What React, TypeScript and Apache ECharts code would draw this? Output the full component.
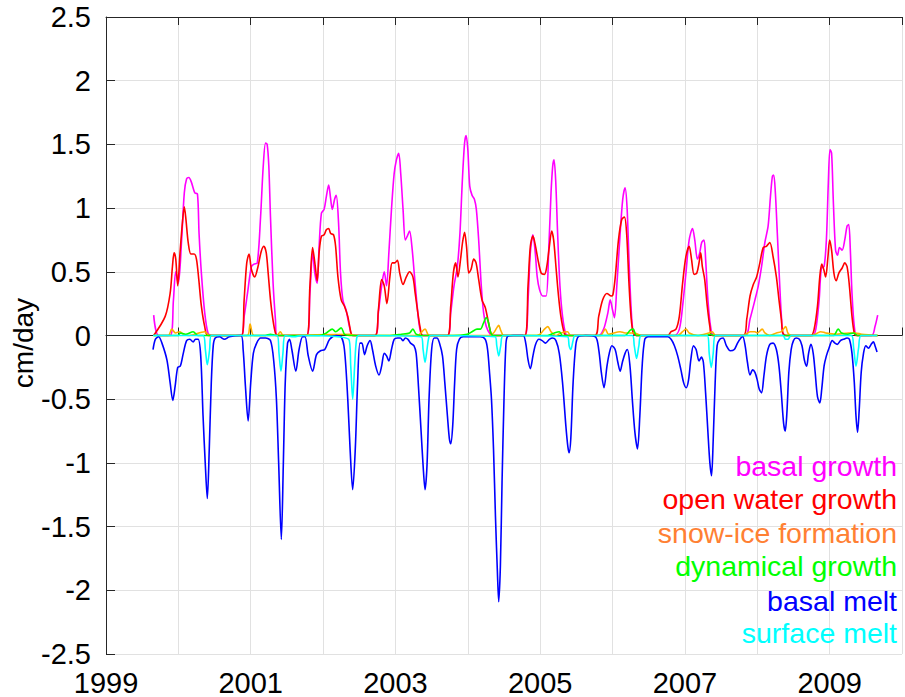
import React, { useEffect, useRef } from "react";
import * as echarts from "echarts";

// [decimal year, cm/day]
const basalGrowth: [number, number][] = [
  [1999.659, 0.16], [1999.727, 0.0], [1999.886, 0.0], [1999.932, 0.28], [1999.964, 0.5], [2000.0, 0.41], [2000.045, 0.75], [2000.082, 1.12], [2000.114, 1.23], [2000.145, 1.24], [2000.182, 1.2], [2000.227, 1.12], [2000.264, 1.11], [2000.286, 0.8], [2000.318, 0.49], [2000.364, 0.18], [2000.409, 0.02], [2000.455, 0.0],
  [2000.864, 0.0], [2000.909, 0.15], [2000.955, 0.33], [2001.009, 0.54], [2001.045, 0.56], [2001.091, 0.57], [2001.136, 0.93], [2001.173, 1.33], [2001.205, 1.51], [2001.227, 1.5], [2001.25, 1.33], [2001.273, 0.93], [2001.309, 0.41], [2001.341, 0.13], [2001.364, 0.0],
  [2001.773, 0.0], [2001.818, 0.33], [2001.855, 0.65], [2001.886, 0.49], [2001.918, 0.41], [2001.945, 0.7], [2001.977, 0.96], [2002.014, 0.99], [2002.045, 1.09], [2002.077, 1.18], [2002.105, 1.07], [2002.127, 0.99], [2002.159, 1.07], [2002.182, 1.1], [2002.214, 0.88], [2002.241, 0.49], [2002.273, 0.28], [2002.318, 0.2], [2002.364, 0.07], [2002.409, 0.0],
  [2002.718, 0.0], [2002.764, 0.18], [2002.809, 0.39], [2002.845, 0.5], [2002.877, 0.39], [2002.909, 0.65], [2002.945, 0.99], [2002.982, 1.27], [2003.014, 1.38], [2003.045, 1.43], [2003.073, 1.27], [2003.105, 0.99], [2003.136, 0.75], [2003.164, 0.78], [2003.195, 0.82], [2003.227, 0.7], [2003.264, 0.46], [2003.3, 0.23], [2003.332, 0.07], [2003.377, 0.0],
  [2003.718, 0.0], [2003.764, 0.18], [2003.809, 0.39], [2003.855, 0.54], [2003.891, 0.8], [2003.923, 1.2], [2003.955, 1.51], [2003.977, 1.57], [2004.0, 1.46], [2004.027, 1.17], [2004.059, 1.1], [2004.091, 1.07], [2004.118, 0.99], [2004.15, 0.75], [2004.186, 0.39], [2004.218, 0.18], [2004.255, 0.07], [2004.309, 0.01], [2004.35, 0.0],
  [2004.786, 0.0], [2004.832, 0.28], [2004.864, 0.65], [2004.9, 0.79], [2004.932, 0.65], [2004.959, 0.46], [2004.991, 0.36], [2005.036, 0.31], [2005.082, 0.31], [2005.118, 0.67], [2005.15, 1.12], [2005.173, 1.33], [2005.191, 1.38], [2005.214, 1.22], [2005.241, 0.8], [2005.273, 0.39], [2005.309, 0.15], [2005.355, 0.01], [2005.4, 0.0],
  [2005.809, 0.0], [2005.877, 0.05], [2005.936, 0.18], [2005.968, 0.28], [2006.0, 0.2], [2006.027, 0.14], [2006.059, 0.39], [2006.105, 0.8], [2006.141, 1.07], [2006.173, 1.16], [2006.2, 1.01], [2006.227, 0.6], [2006.255, 0.23], [2006.286, 0.02], [2006.332, 0.0],
  [2006.855, 0.0], [2006.923, 0.05], [2006.968, 0.23], [2007.014, 0.49], [2007.059, 0.75], [2007.105, 0.84], [2007.136, 0.75], [2007.173, 0.6], [2007.205, 0.65], [2007.232, 0.73], [2007.264, 0.75], [2007.286, 0.6], [2007.318, 0.28], [2007.355, 0.07], [2007.4, 0.0],
  [2007.832, 0.0], [2007.9, 0.13], [2007.968, 0.28], [2008.014, 0.39], [2008.059, 0.54], [2008.105, 0.73], [2008.15, 0.86], [2008.182, 1.09], [2008.209, 1.25], [2008.227, 1.26], [2008.25, 1.12], [2008.277, 0.8], [2008.309, 0.41], [2008.336, 0.13], [2008.364, 0.0],
  [2008.764, 0.0], [2008.809, 0.05], [2008.855, 0.28], [2008.886, 0.53], [2008.923, 0.54], [2008.955, 0.75], [2008.982, 1.2], [2009.005, 1.46], [2009.027, 1.43], [2009.05, 1.07], [2009.082, 0.67], [2009.109, 0.63], [2009.136, 0.69], [2009.173, 0.67], [2009.209, 0.75], [2009.241, 0.86], [2009.264, 0.87], [2009.286, 0.67], [2009.309, 0.33], [2009.341, 0.07], [2009.377, 0.0],
  [2009.582, 0.0], [2009.627, 0.07], [2009.664, 0.16],
];

const openWaterGrowth: [number, number][] = [
  [1999.659, 0.0], [1999.818, 0.15], [1999.886, 0.33], [1999.918, 0.54], [1999.941, 0.65], [1999.964, 0.6], [1999.991, 0.39], [2000.023, 0.65], [2000.055, 0.88], [2000.082, 1.01], [2000.105, 0.91], [2000.136, 0.73], [2000.173, 0.64], [2000.218, 0.64], [2000.25, 0.6], [2000.282, 0.44], [2000.318, 0.23], [2000.364, 0.07], [2000.409, 0.0],
  [2000.873, 0.0], [2000.909, 0.28], [2000.945, 0.57], [2000.977, 0.64], [2001.009, 0.52], [2001.055, 0.46], [2001.1, 0.54], [2001.145, 0.66], [2001.182, 0.7], [2001.214, 0.65], [2001.241, 0.49], [2001.273, 0.28], [2001.305, 0.13], [2001.341, 0.02], [2001.37, 0.0],
  [2001.773, 0.0], [2001.818, 0.39], [2001.855, 0.69], [2001.886, 0.57], [2001.918, 0.43], [2001.945, 0.65], [2001.977, 0.78], [2002.014, 0.79], [2002.045, 0.83], [2002.077, 0.84], [2002.105, 0.8], [2002.145, 0.79], [2002.173, 0.7], [2002.205, 0.46], [2002.25, 0.28], [2002.295, 0.23], [2002.341, 0.15], [2002.386, 0.02], [2002.41, 0.0],
  [2002.718, 0.0], [2002.764, 0.2], [2002.809, 0.44], [2002.845, 0.39], [2002.882, 0.25], [2002.923, 0.46], [2002.955, 0.57], [2002.991, 0.57], [2003.027, 0.59], [2003.059, 0.49], [2003.105, 0.4], [2003.15, 0.46], [2003.195, 0.5], [2003.241, 0.46], [2003.273, 0.33], [2003.309, 0.18], [2003.345, 0.05], [2003.377, 0.0],
  [2003.718, 0.0], [2003.764, 0.23], [2003.8, 0.49], [2003.832, 0.57], [2003.864, 0.46], [2003.9, 0.6], [2003.927, 0.73], [2003.955, 0.81], [2003.982, 0.7], [2004.014, 0.49], [2004.045, 0.52], [2004.082, 0.6], [2004.114, 0.57], [2004.15, 0.44], [2004.195, 0.28], [2004.241, 0.22], [2004.286, 0.1], [2004.318, 0.02], [2004.35, 0.0],
  [2004.786, 0.0], [2004.832, 0.39], [2004.864, 0.7], [2004.9, 0.78], [2004.936, 0.7], [2004.968, 0.6], [2005.014, 0.49], [2005.059, 0.48], [2005.091, 0.54], [2005.127, 0.7], [2005.159, 0.82], [2005.186, 0.75], [2005.218, 0.54], [2005.25, 0.33], [2005.286, 0.15], [2005.332, 0.02], [2005.36, 0.0],
  [2005.755, 0.0], [2005.809, 0.15], [2005.864, 0.28], [2005.923, 0.33], [2005.982, 0.31], [2006.005, 0.32], [2006.036, 0.45], [2006.082, 0.75], [2006.127, 0.91], [2006.164, 0.93], [2006.195, 0.8], [2006.227, 0.41], [2006.255, 0.15], [2006.286, 0.02], [2006.33, 0.0],
  [2006.764, 0.0], [2006.809, 0.03], [2006.877, 0.05], [2006.923, 0.15], [2006.968, 0.41], [2007.014, 0.62], [2007.059, 0.7], [2007.091, 0.6], [2007.127, 0.48], [2007.164, 0.49], [2007.195, 0.57], [2007.218, 0.65], [2007.241, 0.54], [2007.273, 0.44], [2007.309, 0.23], [2007.345, 0.07], [2007.377, 0.0],
  [2007.809, 0.0], [2007.855, 0.13], [2007.9, 0.31], [2007.945, 0.4], [2007.991, 0.46], [2008.036, 0.57], [2008.082, 0.69], [2008.127, 0.7], [2008.173, 0.73], [2008.218, 0.62], [2008.264, 0.46], [2008.3, 0.28], [2008.332, 0.13], [2008.355, 0.02], [2008.4, 0.0],
  [2008.741, 0.0], [2008.786, 0.05], [2008.832, 0.23], [2008.864, 0.46], [2008.891, 0.56], [2008.918, 0.52], [2008.945, 0.46], [2008.977, 0.62], [2009.0, 0.75], [2009.027, 0.67], [2009.059, 0.49], [2009.091, 0.43], [2009.127, 0.49], [2009.173, 0.53], [2009.209, 0.57], [2009.241, 0.54], [2009.273, 0.39], [2009.309, 0.15], [2009.341, 0.02], [2009.377, 0.0], [2009.664, 0.0],
];

const snowIceFormation: [number, number][] = [
  [1999.659, 0.0], [1999.86, 0.0], [1999.909, 0.05], [1999.96, 0.02], [2000.023, 0.03], [2000.068, 0.01], [2000.15, 0.0], [2000.364, 0.03], [2000.432, 0.0],
  [2000.95, 0.0], [2000.991, 0.09], [2001.045, 0.0], [2001.36, 0.0], [2001.409, 0.03], [2001.45, 0.0], [2002.364, 0.01], [2002.45, 0.0],
  [2003.3, 0.0], [2003.409, 0.05], [2003.468, 0.0], [2004.3, 0.0], [2004.355, 0.02], [2004.4, 0.06], [2004.427, 0.08], [2004.455, 0.04], [2004.5, 0.0],
  [2004.95, 0.0], [2005.0, 0.01], [2005.059, 0.05], [2005.105, 0.07], [2005.15, 0.03], [2005.218, 0.0], [2005.286, 0.02], [2005.377, 0.03], [2005.423, 0.0],
  [2005.832, 0.0], [2005.9, 0.05], [2005.945, 0.01], [2006.105, 0.03], [2006.173, 0.02], [2006.3, 0.02], [2006.4, 0.0],
  [2006.9, 0.0], [2006.968, 0.03], [2007.014, 0.05], [2007.059, 0.02], [2007.173, 0.0], [2007.332, 0.02], [2007.377, 0.03], [2007.423, 0.0],
  [2007.809, 0.0], [2007.9, 0.03], [2007.968, 0.03], [2008.0, 0.02], [2008.068, 0.05], [2008.105, 0.02], [2008.173, 0.0], [2008.264, 0.02], [2008.332, 0.03], [2008.391, 0.07], [2008.423, 0.02], [2008.468, 0.0],
  [2008.764, 0.0], [2008.832, 0.02], [2008.877, 0.03], [2008.945, 0.02], [2009.082, 0.01], [2009.264, 0.02], [2009.355, 0.02], [2009.445, 0.01], [2009.664, 0.0],
];

const dynamicalGrowth: [number, number][] = [
  [1999.659, 0.0], [2000.0, 0.0], [2000.023, 0.02], [2000.1, 0.01], [2000.205, 0.03], [2000.27, 0.0], [2001.2, 0.0], [2001.273, 0.01], [2001.35, 0.0],
  [2001.95, 0.0], [2002.045, 0.02], [2002.127, 0.05], [2002.173, 0.03], [2002.25, 0.06], [2002.295, 0.01], [2002.364, 0.0],
  [2002.9, 0.0], [2003.082, 0.01], [2003.195, 0.02], [2003.241, 0.05], [2003.286, 0.01], [2003.35, 0.0],
  [2003.8, 0.0], [2003.991, 0.01], [2004.059, 0.03], [2004.127, 0.05], [2004.173, 0.05], [2004.218, 0.1], [2004.255, 0.14], [2004.286, 0.1], [2004.318, 0.02], [2004.355, 0.0],
  [2005.1, 0.0], [2005.195, 0.02], [2005.264, 0.03], [2005.309, 0.0],
  [2006.173, 0.0], [2006.241, 0.04], [2006.286, 0.05], [2006.332, 0.0],
  [2007.3, 0.0], [2007.355, 0.01], [2007.4, 0.0],
  [2009.05, 0.0], [2009.118, 0.05], [2009.164, 0.02], [2009.25, 0.01], [2009.332, 0.02], [2009.386, 0.0], [2009.664, 0.0],
];

const basalMelt: [number, number][] = [
  [1999.65, -0.11], [1999.682, -0.03], [1999.727, -0.01], [1999.773, -0.06], [1999.841, -0.19], [1999.886, -0.37], [1999.923, -0.51], [1999.955, -0.4], [1999.991, -0.25], [2000.027, -0.24], [2000.068, -0.14], [2000.114, -0.04], [2000.159, -0.03], [2000.205, -0.05], [2000.236, -0.03], [2000.273, -0.03], [2000.309, -0.16], [2000.341, -0.63], [2000.373, -1.02], [2000.4, -1.28], [2000.427, -0.89], [2000.455, -0.37], [2000.482, -0.08], [2000.509, -0.02], [2000.568, -0.01], [2000.636, -0.03], [2000.705, -0.01],
  [2000.864, 0.0], [2000.895, -0.11], [2000.927, -0.4], [2000.964, -0.67], [2001.0, -0.37], [2001.036, -0.14], [2001.082, -0.06], [2001.136, -0.02], [2001.205, -0.02], [2001.273, -0.04], [2001.318, -0.2], [2001.355, -0.5], [2001.386, -1.0], [2001.423, -1.6], [2001.45, -1.02], [2001.477, -0.37], [2001.509, -0.06], [2001.536, -0.03], [2001.568, -0.11], [2001.623, -0.28], [2001.668, -0.11], [2001.718, -0.01], [2001.75, -0.01], [2001.795, -0.16], [2001.855, -0.28], [2001.909, -0.15], [2001.964, -0.12], [2002.023, -0.11], [2002.091, -0.03], [2002.182, 0.0], [2002.25, -0.01], [2002.295, -0.11], [2002.341, -0.5], [2002.373, -0.89], [2002.409, -1.21], [2002.445, -0.89], [2002.477, -0.37], [2002.509, -0.06],
  [2002.536, -0.06], [2002.573, -0.15], [2002.609, -0.08], [2002.65, -0.04], [2002.682, -0.11], [2002.727, -0.24], [2002.773, -0.31], [2002.809, -0.24], [2002.845, -0.14], [2002.877, -0.16], [2002.909, -0.2], [2002.945, -0.11], [2002.982, -0.03], [2003.027, -0.02], [2003.068, -0.02], [2003.105, -0.04], [2003.136, -0.02], [2003.173, -0.03], [2003.209, -0.06], [2003.255, -0.08], [2003.286, -0.14], [2003.318, -0.4], [2003.355, -0.76], [2003.382, -1.02], [2003.409, -1.21], [2003.436, -1.02], [2003.464, -0.5], [2003.5, -0.11], [2003.536, -0.02], [2003.573, -0.02], [2003.609, -0.06], [2003.65, -0.16], [2003.682, -0.37], [2003.718, -0.63], [2003.745, -0.81], [2003.764, -0.85], [2003.791, -0.71], [2003.818, -0.37], [2003.845, -0.11], [2003.882, -0.03], [2003.936, -0.01],
  [2004.082, -0.01], [2004.173, -0.01], [2004.241, -0.03], [2004.273, -0.11], [2004.3, -0.29], [2004.327, -0.5], [2004.355, -0.89], [2004.382, -1.42], [2004.409, -1.86], [2004.427, -2.09], [2004.45, -1.81], [2004.473, -1.15], [2004.5, -0.5], [2004.523, -0.11], [2004.545, -0.01], [2004.627, 0.0], [2004.764, 0.0], [2004.8, -0.06], [2004.832, -0.19], [2004.864, -0.26], [2004.9, -0.16], [2004.936, -0.07], [2004.982, -0.03], [2005.027, -0.04], [2005.073, -0.06], [2005.127, -0.03], [2005.173, -0.02], [2005.218, -0.04], [2005.264, -0.14], [2005.309, -0.37], [2005.355, -0.71], [2005.382, -0.87], [2005.4, -0.92], [2005.423, -0.81], [2005.455, -0.37], [2005.491, -0.08], [2005.527, -0.01], [2005.627, 0.0],
  [2005.764, -0.01], [2005.809, -0.11], [2005.845, -0.29], [2005.882, -0.41], [2005.923, -0.24], [2005.955, -0.14], [2005.991, -0.08], [2006.036, -0.11], [2006.073, -0.21], [2006.105, -0.28], [2006.136, -0.21], [2006.173, -0.14], [2006.205, -0.11], [2006.241, -0.24], [2006.273, -0.5], [2006.309, -0.76], [2006.345, -0.89], [2006.377, -0.63], [2006.409, -0.24], [2006.445, -0.03], [2006.491, -0.01],
  [2006.764, -0.01], [2006.809, -0.03], [2006.855, -0.08], [2006.9, -0.16], [2006.945, -0.27], [2006.982, -0.37], [2007.018, -0.41], [2007.05, -0.35], [2007.082, -0.19], [2007.118, -0.08], [2007.155, -0.11], [2007.195, -0.2], [2007.227, -0.17], [2007.255, -0.21], [2007.286, -0.45], [2007.318, -0.76], [2007.345, -1.0], [2007.368, -1.1], [2007.391, -0.82], [2007.418, -0.37], [2007.445, -0.08], [2007.482, -0.03], [2007.527, -0.02], [2007.573, -0.08], [2007.627, -0.12], [2007.682, -0.11], [2007.727, -0.06], [2007.773, -0.02], [2007.8, -0.01],
  [2007.832, -0.08], [2007.864, -0.21], [2007.9, -0.31], [2007.936, -0.27], [2007.968, -0.29], [2008.0, -0.35], [2008.027, -0.42], [2008.059, -0.45], [2008.091, -0.32], [2008.127, -0.16], [2008.173, -0.07], [2008.218, -0.06], [2008.264, -0.11], [2008.3, -0.24], [2008.332, -0.45], [2008.364, -0.69], [2008.386, -0.75], [2008.409, -0.61], [2008.436, -0.29], [2008.468, -0.11], [2008.5, -0.04], [2008.536, -0.02], [2008.582, -0.03], [2008.618, -0.08], [2008.65, -0.19], [2008.682, -0.24], [2008.709, -0.14], [2008.741, -0.07], [2008.773, -0.14], [2008.8, -0.29], [2008.832, -0.48], [2008.864, -0.53], [2008.891, -0.42], [2008.923, -0.24], [2008.955, -0.16], [2008.991, -0.1], [2009.036, -0.04], [2009.073, -0.06], [2009.105, -0.07], [2009.15, -0.04], [2009.191, -0.03], [2009.241, -0.02], [2009.273, -0.03], [2009.309, -0.14], [2009.341, -0.37], [2009.364, -0.63], [2009.386, -0.76], [2009.409, -0.58], [2009.436, -0.29], [2009.468, -0.14], [2009.5, -0.08], [2009.536, -0.1], [2009.573, -0.07], [2009.605, -0.05], [2009.627, -0.08], [2009.655, -0.13],
];

const surfaceMelt: [number, number][] = [
  [1999.65, 0.0], [2000.341, 0.0], [2000.373, -0.11], [2000.4, -0.23], [2000.432, -0.11], [2000.455, 0.0],
  [2001.364, 0.0], [2001.391, -0.14], [2001.418, -0.28], [2001.445, -0.14], [2001.477, 0.0], [2001.6, -0.01], [2001.7, 0.0],
  [2002.355, -0.03], [2002.382, -0.24], [2002.409, -0.5], [2002.436, -0.24], [2002.464, -0.02], [2002.5, 0.0],
  [2003.355, -0.01], [2003.382, -0.11], [2003.409, -0.21], [2003.436, -0.11], [2003.464, -0.01], [2003.5, 0.0],
  [2004.377, -0.01], [2004.4, -0.08], [2004.427, -0.16], [2004.455, -0.08], [2004.491, 0.0],
  [2005.377, -0.01], [2005.4, -0.08], [2005.423, -0.11], [2005.455, -0.04], [2005.482, 0.0],
  [2006.273, 0.0], [2006.3, -0.08], [2006.332, -0.18], [2006.364, -0.08], [2006.4, 0.0],
  [2007.309, 0.0], [2007.336, -0.14], [2007.364, -0.25], [2007.391, -0.14], [2007.423, 0.0],
  [2008.355, 0.0], [2008.391, -0.03], [2008.423, -0.03], [2008.468, 0.0],
  [2009.3, 0.0], [2009.332, -0.1], [2009.364, -0.24], [2009.4, -0.1], [2009.436, 0.0], [2009.655, 0.0],
];

const seriesNames = ["basal growth", "open water growth", "snow-ice formation", "dynamical growth", "basal melt", "surface melt"];
const lineColors = ["#ff00ff", "#ff0000", "#ffb000", "#00ff00", "#0000ff", "#00ffff"];
const textColors = ["#ff00ff", "#ff0000", "#ff8033", "#00ff00", "#0000ff", "#00ffff"];
const seriesData = [basalGrowth, openWaterGrowth, snowIceFormation, dynamicalGrowth, basalMelt, surfaceMelt];

const yMin = -2.5;
const yMax = 2.5;
const yStep = 0.5;
const xMin = 1999;
const xMax = 2010;
const yLabel = "cm/day";

const FONT = "Liberation Sans, Arial, Helvetica, sans-serif";
const AXIS_COLOR = "#262626";
const GRID_COLOR = "#e1e1e1";

export default function App() {
  const ref = useRef<HTMLDivElement>(null);

  useEffect(() => {
    if (!ref.current) return;
    const chart = echarts.init(ref.current, undefined, { renderer: "svg" });
    const legendY = [466, 499, 532.5, 566, 601, 632.5];
    const option: any = {
      animation: false,
      backgroundColor: "#ffffff",
      grid: { left: 106, top: 17, width: 808, height: 637, containLabel: false },
      xAxis: [
        {
          type: "value",
          position: "bottom",
          min: xMin,
          max: xMax,
          interval: 1,
          axisLine: { show: true, lineStyle: { color: AXIS_COLOR, width: 1 } },
          axisTick: { show: true, inside: true, length: 8, lineStyle: { color: AXIS_COLOR } },
          axisLabel: {
            show: true,
            margin: 14,
            color: "#000",
            fontFamily: FONT,
            fontSize: 29,
            formatter: (v: number) => (Math.round(v) % 2 === 1 ? String(Math.round(v)) : ""),
          },
          splitLine: { show: true, lineStyle: { color: GRID_COLOR, width: 1 } },
        },
        {
          type: "value",
          position: "top",
          min: xMin,
          max: xMax,
          interval: 1,
          axisLine: { show: true, lineStyle: { color: AXIS_COLOR, width: 1 } },
          axisTick: { show: true, inside: true, length: 8, lineStyle: { color: AXIS_COLOR } },
          axisLabel: { show: false },
          splitLine: { show: false },
        },
      ],
      yAxis: {
        type: "value",
        min: yMin,
        max: yMax,
        interval: yStep,
        axisLine: { show: true, lineStyle: { color: AXIS_COLOR, width: 1 } },
        axisTick: { show: true, inside: true, length: 9, lineStyle: { color: AXIS_COLOR } },
        axisLabel: {
          margin: 15,
          color: "#000",
          fontFamily: FONT,
          fontSize: 29,
          formatter: (v: number) => String(Math.round(v * 10) / 10),
        },
        splitLine: { show: true, lineStyle: { color: GRID_COLOR, width: 1 } },
      },
      series: seriesData.map((d, i) => ({
        name: seriesNames[i],
        type: "line",
        xAxisIndex: 0,
        data: d,
        showSymbol: false,
        smooth: 0.3,
        lineStyle: { color: lineColors[i], width: 1.6 },
        itemStyle: { color: lineColors[i] },
        z: 2 + i,
      })),
      graphic: [
        {
          type: "text",
          x: 23.5,
          y: 343,
          rotation: Math.PI / 2,
          style: {
            text: yLabel,
            fill: "#000",
            font: `28px ${FONT}`,
            textAlign: "center",
            textVerticalAlign: "middle",
          },
        },
        ...seriesNames.map((n, i) => ({
          type: "text",
          x: 897,
          y: legendY[i],
          z: 100,
          style: {
            text: n,
            fill: textColors[i],
            font: `28.5px ${FONT}`,
            textAlign: "right",
            textVerticalAlign: "middle",
          },
        })),
      ],
    };
    chart.setOption(option);
    return () => chart.dispose();
  }, []);

  return (
    <div
      ref={ref}
      style={{ position: "fixed", left: 0, top: 0, width: 905, height: 697, background: "#fff" }}
    />
  );
}
